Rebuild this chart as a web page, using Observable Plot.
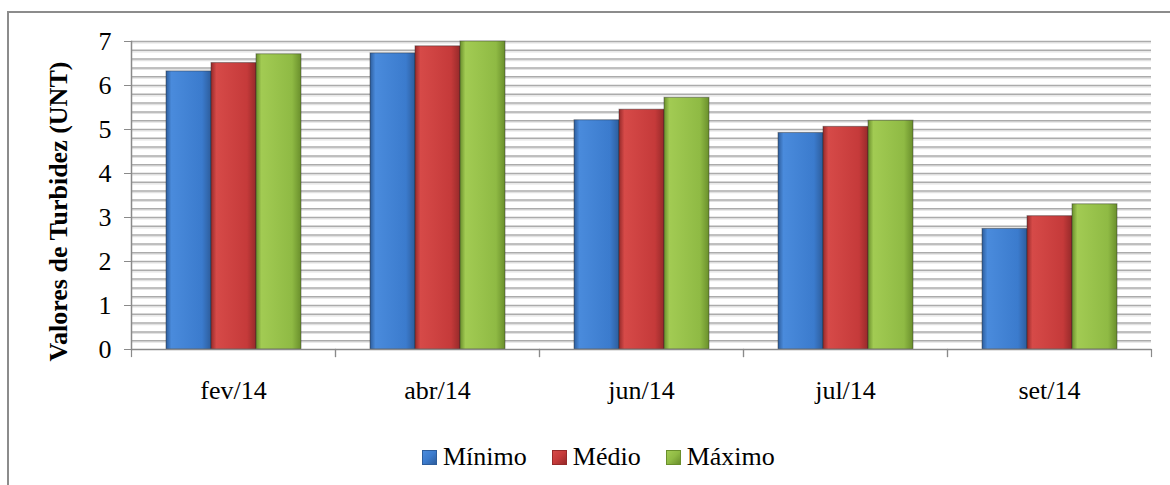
<!DOCTYPE html>
<html>
<head>
<meta charset="utf-8">
<script src="https://cdn.jsdelivr.net/npm/d3@7"></script>
<script src="https://cdn.jsdelivr.net/npm/@observablehq/plot@0.6"></script>
<style>
  body { margin: 0; background: #fff; }
  #wrap { position: relative; width: 1170px; height: 485px; overflow: hidden; background: #fff;
          font-family: 'Liberation Serif', 'Times New Roman', serif; }
  #border { position: absolute; left: 7px; top: 11px; width: 1200px; height: 520px;
            border-left: 2px solid #8c8c8c; border-top: 2px solid #8c8c8c; }
  #chart { position: absolute; left: 0; top: 0; }
  #legend { position: absolute; left: 422px; top: 442px; display: flex; align-items: center;
            font-family: 'Liberation Serif', 'Times New Roman', serif;
            font-size: 26px; color: #000; white-space: nowrap; }
  .item { display: flex; align-items: center; margin-right: 25px; }
  .sw { width: 15px; height: 15px; margin-right: 6px; box-sizing: border-box; }
</style>
</head>
<body>
<div id="wrap">
  <div id="border"></div>
  <div id="chart"></div>
  <div id="legend"></div>
</div>
<script>
// ---- data ----
const months = ["fev/14", "abr/14", "jun/14", "jul/14", "set/14"];
const series = ["Mínimo", "Médio", "Máximo"];
const minimo = [6.32, 6.73, 5.21, 4.92, 2.74];
const medio  = [6.51, 6.89, 5.45, 5.06, 3.03];
const maximo = [6.71, 7.00, 5.72, 5.20, 3.30];
const yTicks = [0, 1, 2, 3, 4, 5, 6, 7];
const yTitle = "Valores de Turbidez (UNT)";

const values = [minimo, medio, maximo];
const rows = [];
months.forEach((m, i) => series.forEach((s, j) => rows.push({month: m, series: s, value: values[j][i]})));

// ---- styles ----
const FONT = "'Liberation Serif', 'Times New Roman', serif";
const grads = [
  {id: "gMin", edge: "#2d5d9c", main: "#3b7bcd", hi: "#4a8bdc"},
  {id: "gMed", edge: "#962a2a", main: "#c53a3a", hi: "#d64a48"},
  {id: "gMax", edge: "#6a8f2c", main: "#8fba44", hi: "#a2cb53"}
];
const gridVals = d3.range(1, 36).map(k => k / 5);

const W = 1170, H = 420, mT = 41, mB = 71, mL = 130, mR = 19;
const innerH = H - mT - mB;
const axisColor = "#8a8a8a";

const chart = Plot.plot({
  width: W, height: H,
  marginTop: mT, marginBottom: mB, marginLeft: mL, marginRight: mR,
  style: {fontFamily: FONT, fontSize: "26px", color: "#000", background: "transparent", overflow: "visible"},
  fx: {domain: months, padding: 0, label: null, axis: "bottom", tickSize: 0, tickPadding: 31},
  x: {domain: series, paddingInner: 0, paddingOuter: 0.75, axis: null},
  y: {domain: [0, 7], axis: null},
  color: {domain: series, range: grads.map(g => `url(#${g.id})`)},
  marks: [
    Plot.ruleY(gridVals, {stroke: "#e2e2e2", strokeWidth: 1.2, dy: 1.5}),
    Plot.ruleY(gridVals, {stroke: "#ababab", strokeWidth: 1.5}),
    Plot.barY(rows, {fx: "month", x: "series", y: "value", fill: "series", stroke: "#2a2a2a", strokeOpacity: 0.45, strokeWidth: 1}),
    Plot.axisY({ticks: yTicks, tickFormat: d3.format("d"), tickSize: 7, tickPadding: 13, label: null,
      stroke: axisColor, fill: "#000", fontSize: 26, fontFamily: FONT}),
    Plot.frame({anchor: "left", facetAnchor: "left", stroke: axisColor, strokeWidth: 1.5}),
    Plot.ruleY([0], {stroke: axisColor, strokeWidth: 1.5}),
    Plot.frame({anchor: "left", insetTop: innerH, insetBottom: -7, stroke: axisColor, strokeWidth: 1.2}),
    Plot.frame({anchor: "right", insetTop: innerH, insetBottom: -7, stroke: axisColor, strokeWidth: 1.2}),
    Plot.text([yTitle], {frameAnchor: "left", facetAnchor: "left", rotate: -90, dx: -73, dy: 16,
      textAnchor: "middle", lineAnchor: "middle",
      fontWeight: "bold", fontSize: 26, fontFamily: FONT, fill: "#000"})
  ]
});

// gradient defs for bevel-like bars
const defs = d3.select(chart).insert("defs", ":first-child");
grads.forEach(g => {
  const lg = defs.append("linearGradient").attr("id", g.id).attr("x1", 0).attr("x2", 1).attr("y1", 0).attr("y2", 0);
  lg.append("stop").attr("offset", "0%").attr("stop-color", g.edge);
  lg.append("stop").attr("offset", "12%").attr("stop-color", g.hi);
  lg.append("stop").attr("offset", "80%").attr("stop-color", g.main);
  lg.append("stop").attr("offset", "100%").attr("stop-color", g.edge);
});

document.getElementById("chart").appendChild(chart);

// legend
const leg = document.getElementById("legend");
series.forEach((s, j) => {
  const g = grads[j];
  const it = document.createElement("div");
  it.className = "item";
  const sw = document.createElement("div");
  sw.className = "sw";
  sw.style.background = `linear-gradient(135deg, ${g.hi}, ${g.main} 50%, ${g.edge})`;
  sw.style.border = `1px solid ${g.edge}`;
  const t = document.createElement("span");
  t.textContent = s;
  it.appendChild(sw); it.appendChild(t);
  leg.appendChild(it);
});
</script>
</body>
</html>
